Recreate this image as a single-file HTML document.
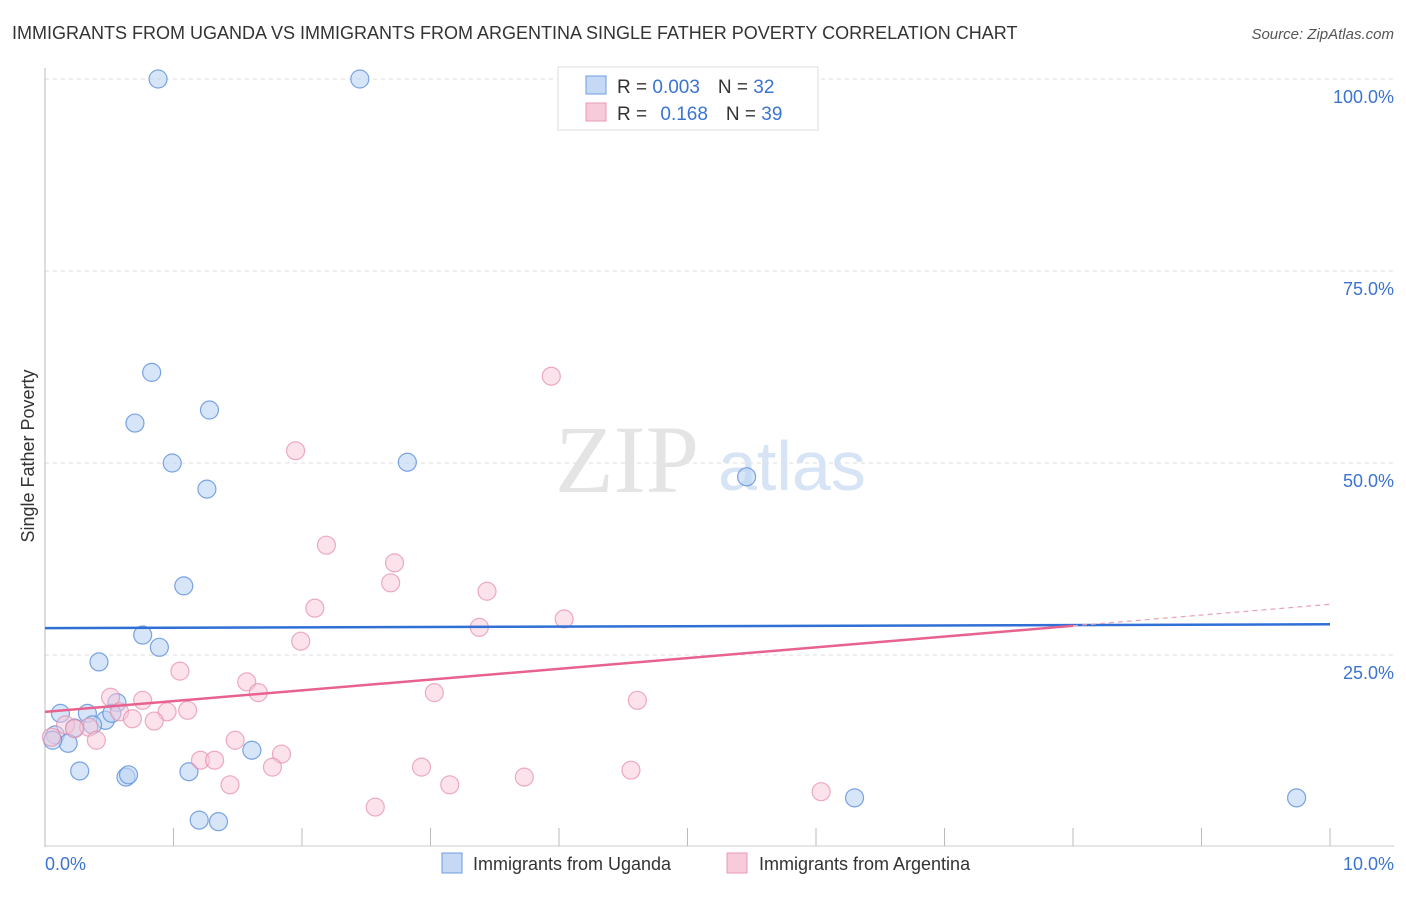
<!DOCTYPE html>
<html><head><meta charset="utf-8"><style>
body{margin:0;background:#fff;font-family:"Liberation Sans",sans-serif;}
</style></head><body>
<svg width="1406" height="892" xmlns="http://www.w3.org/2000/svg" font-family="Liberation Sans, sans-serif">
<text x="12" y="39" font-size="18" fill="#333">IMMIGRANTS FROM UGANDA VS IMMIGRANTS FROM ARGENTINA SINGLE FATHER POVERTY CORRELATION CHART</text>
<text x="1394" y="39" font-size="15" fill="#555" font-style="italic" text-anchor="end">Source: ZipAtlas.com</text>
<g id="grid"></g>
<g id="axes"></g>
<text x="555" y="492" font-size="96" fill="#e4e4e4" font-family="Liberation Serif, serif">ZIP</text>
<text x="718" y="490" font-size="70" fill="#d6e4f5">atlas</text>
<g id="pts"></g>
<g id="trend"></g>
<text x="34" y="456" font-size="18" fill="#333" transform="rotate(-90 34 456)" text-anchor="middle">Single Father Poverty</text>
<text x="45" y="870" font-size="18" fill="#3b74d0">0.0%</text>
<text x="1394" y="870" font-size="18" fill="#3b74d0" text-anchor="end">10.0%</text>
<g>
<rect x="558" y="67" width="260" height="63" fill="#fff" stroke="#ddd"/>
<rect x="586" y="76" width="20" height="18" fill="#c5d9f5" stroke="#6d9de0"/>
<rect x="586" y="103" width="20" height="18" fill="#f8cbdb" stroke="#e89ab5"/>
<text x="617" y="93" font-size="19" fill="#333">R = <tspan fill="#3b74d0">0.003</tspan><tspan dx="18">N = </tspan><tspan fill="#3b74d0">32</tspan></text>
<text x="617" y="120" font-size="19" fill="#333">R = <tspan fill="#3b74d0" dx="8">0.168</tspan><tspan dx="18">N = </tspan><tspan fill="#3b74d0">39</tspan></text>
</g>
<g>
<rect x="442" y="853" width="20" height="20" fill="#c5d9f5" stroke="#6d9de0"/>
<text x="473" y="870" font-size="18" fill="#333">Immigrants from Uganda</text>
<rect x="727" y="853" width="20" height="20" fill="#f8cbdb" stroke="#e89ab5"/>
<text x="759" y="870" font-size="18" fill="#333">Immigrants from Argentina</text>
</g>
</svg>
<script>
const yTicks=[100,75,50,25];
const yTickLabels=["100.0%","75.0%","50.0%","25.0%"];
const xTicks=[0,1,2,3,4,5,6,7,8,9,10];
const ugandaX=[0.88,2.45,0.83,1.28,0.70,0.99,2.82,1.26,5.46,1.08,0.76,0.89,0.42,0.12,0.33,0.56,0.47,0.37,0.23,0.08,0.18,0.06,0.27,0.63,0.65,1.12,1.61,1.20,1.35,6.30,9.74,0.52];
const ugandaY=[100,100,61.8,56.9,55.2,50.0,50.1,46.6,48.2,34.0,27.6,26.0,24.1,17.4,17.4,18.8,16.5,15.9,15.5,14.6,13.5,13.9,9.9,9.1,9.4,9.8,12.6,3.5,3.3,6.4,6.4,17.4];
const argX=[3.94,1.95,2.19,2.72,2.69,3.44,2.10,4.04,3.38,1.99,1.05,1.57,1.66,3.03,0.51,0.76,4.61,1.11,0.95,0.58,0.68,0.85,0.16,0.34,0.23,0.05,0.40,1.48,1.84,1.21,1.32,1.77,2.93,4.56,3.73,1.44,3.15,2.57,6.04];
const argY=[61.3,51.6,39.3,37.0,34.4,33.3,31.1,29.7,28.6,26.8,22.9,21.5,20.1,20.1,19.5,19.1,19.1,17.8,17.6,17.6,16.7,16.4,15.9,15.6,15.4,14.3,13.9,13.9,12.1,11.3,11.3,10.4,10.4,10.0,9.1,8.1,8.1,5.2,7.2];
const ugandaTrend=[28.5,29.0];
const argTrend=[17.6,31.6];
const argSolidEnd=8;
const NS="http://www.w3.org/2000/svg";
const sx=v=>45+v*128.5, sy=v=>847-v*7.68;
function mk(p,tag,a){const e=document.createElementNS(NS,tag);for(const k in a)e.setAttribute(k,a[k]);p.appendChild(e);return e;}
const grid=document.getElementById('grid'),axes=document.getElementById('axes');
yTicks.forEach((t,i)=>{
 const l=mk(grid,'line',{x1:45,x2:1394,y1:sy(t),y2:sy(t),stroke:'#ddd','stroke-dasharray':'4,4'});
 
 
 const tx=mk(grid,'text',{x:1394,y:sy(t)+24,'font-size':18,fill:'#3b74d0','text-anchor':'end'});
 tx.textContent=yTickLabels[i];
 
 
});
const ya=mk(axes,'line',{x1:45,x2:45,y1:68,y2:847,stroke:'#bbb'});


const xa=mk(axes,'line',{x1:45,x2:1394,y1:846,y2:846,stroke:'#ccc'});


xTicks.forEach(t=>{
 const l=mk(axes,'line',{x1:sx(t),x2:sx(t),y1:828,y2:846,stroke:'#bbb'});
 
 
});
const pts=document.getElementById('pts');
ugandaX.forEach((x,i)=>{
 const c=mk(pts,'circle',{cx:sx(x),cy:sy(ugandaY[i]),r:9,fill:'#bcd4f4','fill-opacity':0.6,stroke:'#5d8fdc','stroke-opacity':0.8,'stroke-width':1.2});
 
 
});
argX.forEach((x,i)=>{
 const c=mk(pts,'circle',{cx:sx(x),cy:sy(argY[i]),r:9,fill:'#f8c6d7','fill-opacity':0.5,stroke:'#e68aaa','stroke-opacity':0.7,'stroke-width':1.2});
 
 
});
const tr=document.getElementById('trend');
const bl=mk(tr,'line',{x1:sx(0),y1:sy(ugandaTrend[0]),x2:sx(10),y2:sy(ugandaTrend[1]),stroke:'#2f6fd6','stroke-width':2.5});


const ay=x=>argTrend[0]+(argTrend[1]-argTrend[0])*x/10;
const pl=mk(tr,'line',{x1:sx(0),y1:sy(ay(0)),x2:sx(argSolidEnd),y2:sy(ay(argSolidEnd)),stroke:'#e8628f','stroke-width':2.5});


const pd=mk(tr,'line',{x1:sx(argSolidEnd),y1:sy(ay(argSolidEnd)),x2:sx(10),y2:sy(ay(10)),stroke:'#e8a0b8','stroke-width':1.2,'stroke-dasharray':'5,4'});


</script>
</body></html>
